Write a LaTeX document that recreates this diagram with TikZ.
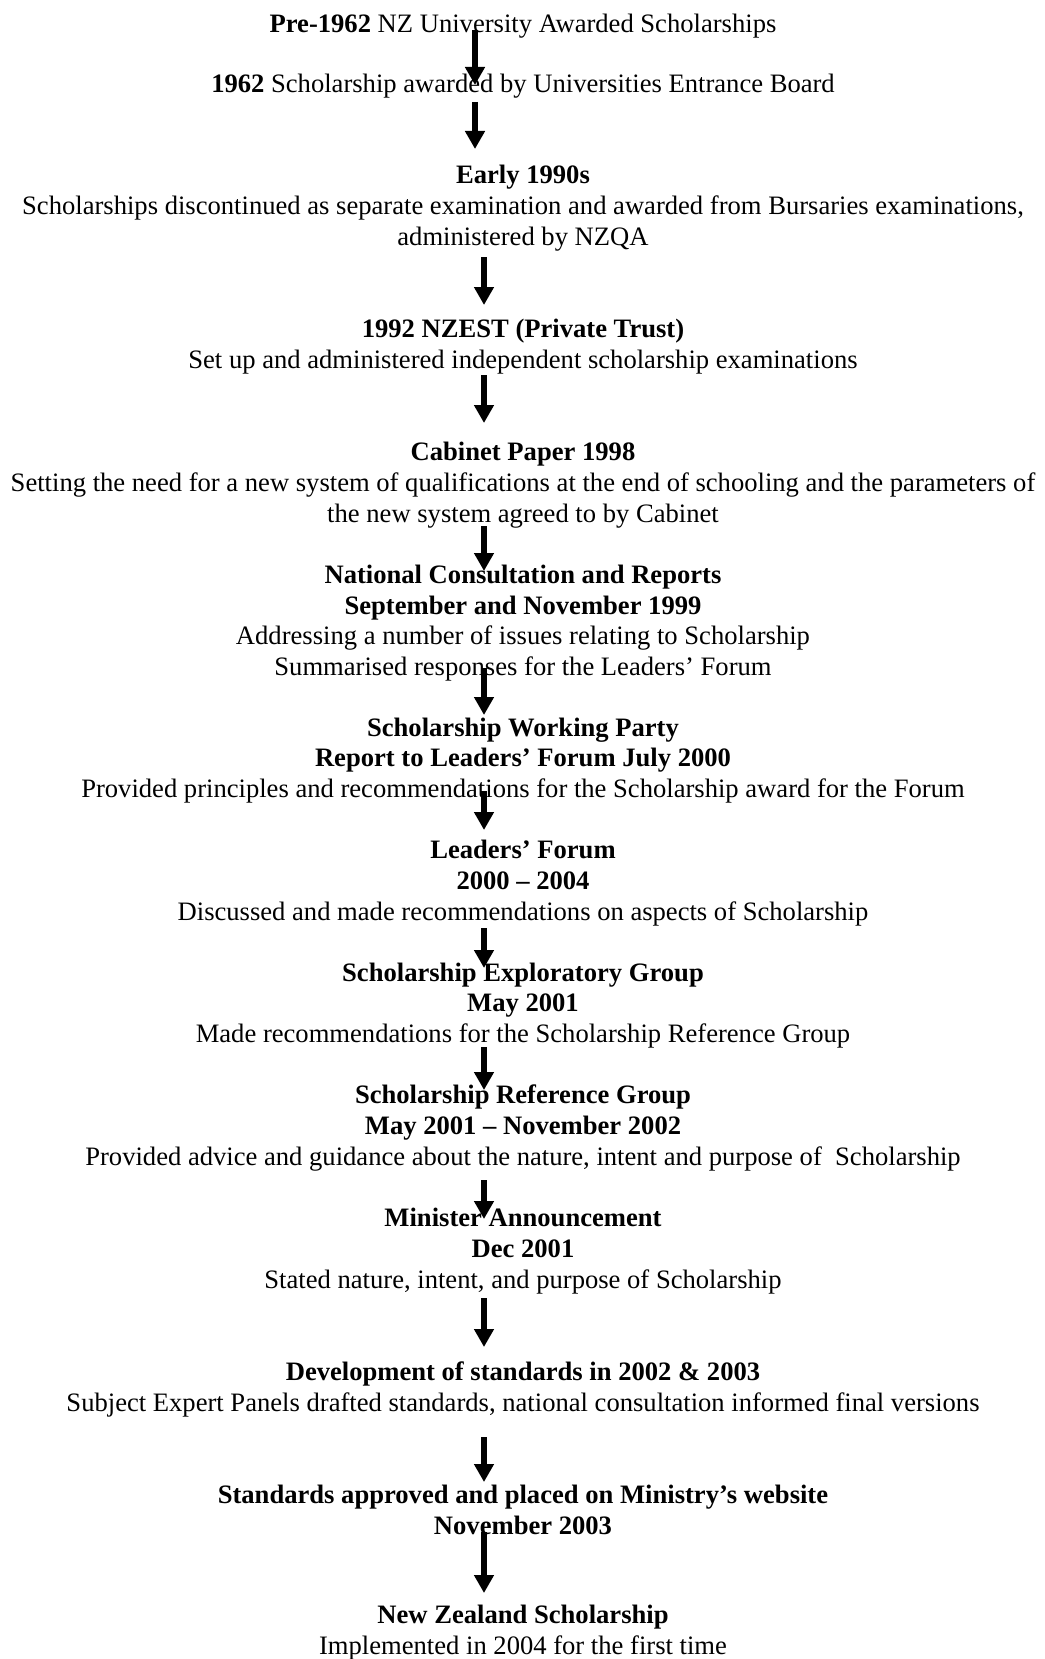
\documentclass[tikz,border=0pt]{standalone}
\usepackage{fontspec}
\setmainfont{Liberation Serif}
\usetikzlibrary{arrows.meta}

\tikzset{
	stage/.style={align=center, inner sep=0pt, font=\fontsize{13.3}{15.35}\selectfont},
	flow/.style={-{Triangle[width=9.5pt,length=9pt]}, line width=2.8pt}
}

\begin{document}
\begin{tikzpicture}[x=0.5pt, y=-0.5pt]

		% --- Page frame ---
		\useasboundingbox (0,0) rectangle (1044,1659);

		% --- The Stages ---
		\node[stage] (pre) at (523,26) {\textbf{Pre-1962} NZ University Awarded Scholarships};
		\node[stage] (ueb) at (523,86.5) {\textbf{1962} Scholarship awarded by Universities Entrance Board};
		\node[stage] (early) at (523,208) {\textbf{Early 1990s}\\
			Scholarships discontinued as separate examination and awarded from Bursaries examinations,\\
			administered by NZQA};
		\node[stage] (nzest) at (523,346.5) {\textbf{1992 NZEST (Private Trust)}\\
			Set up and administered independent scholarship examinations};
		\node[stage] (cabinet) at (523,485) {\textbf{Cabinet Paper 1998}\\
			Setting the need for a new system of qualifications at the end of schooling and the parameters of\\
			the new system agreed to by Cabinet};
		\node[stage] (consult) at (523,623) {\textbf{National Consultation and Reports}\\
			\textbf{September and November 1999}\\
			Addressing a number of issues relating to Scholarship\\
			Summarised responses for the Leaders’ Forum};
		\node[stage] (party) at (523,760.5) {\textbf{Scholarship Working Party}\\
			\textbf{Report to Leaders’ Forum July 2000}\\
			Provided principles and recommendations for the Scholarship award for the Forum};
		\node[stage] (forum) at (523,883) {\textbf{Leaders’ Forum}\\
			\textbf{2000 – 2004}\\
			Discussed and made recommendations on aspects of Scholarship};
		\node[stage] (explore) at (523,1005.5) {\textbf{Scholarship Exploratory Group}\\
			\textbf{May 2001}\\
			Made recommendations for the Scholarship Reference Group};
		\node[stage] (refgroup) at (523,1128) {\textbf{Scholarship Reference Group}\\
			\textbf{May 2001 – November 2002}\\
			Provided advice and guidance about the nature, intent and purpose of~ Scholarship};
		\node[stage] (minister) at (523,1251) {\textbf{Minister Announcement}\\
			\textbf{Dec 2001}\\
			Stated nature, intent, and purpose of Scholarship};
		\node[stage] (develop) at (523,1389.5) {\textbf{Development of standards in 2002 \& 2003}\\
			Subject Expert Panels drafted standards, national consultation informed final versions};
		\node[stage] (approved) at (523,1510) {\textbf{Standards approved and placed on Ministry’s website}\\
			\textbf{November 2003}};
		\node[stage] (nzs) at (523,1632.5) {\textbf{New Zealand Scholarship}\\
			Implemented in 2004 for the first time};

		% --- The Arrows ---
		\foreach \i/\x/\top/\tip in {1/475/30/85, 2/475/102/149, 3/484/257/305, 4/484/375/423,
			5/484/526/571, 6/484/668/715, 7/484/791/830, 8/484/928/968, 9/484/1047/1090,
			10/484/1180/1219, 11/484/1298/1347, 12/484/1437/1482, 13/484/1532/1593} {
			\coordinate (s\i) at (\x,\top);
			\coordinate (e\i) at (\x,\tip);
			\draw[flow] (s\i) -- (e\i);
		}

	\end{tikzpicture}
\end{document}
